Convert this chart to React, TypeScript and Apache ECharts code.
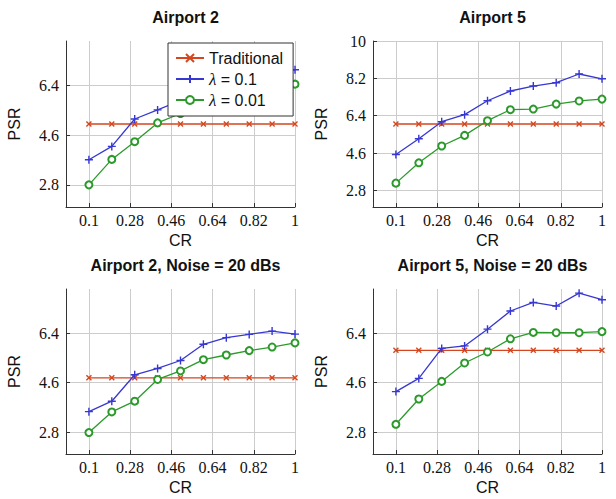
import React, { useEffect, useRef } from "react";
import * as echarts from "echarts";

const CR = [0.1, 0.2, 0.3, 0.4, 0.5, 0.6, 0.7, 0.8, 0.9, 1.0];
const xTicks = [0.1, 0.28, 0.46, 0.64, 0.82, 1];
const yTicksA = [2.8, 4.6, 6.4];
const yTicksB = [2.8, 4.6, 6.4, 8.2, 10];

const titles = ["Airport 2", "Airport 5", "Airport 2, Noise = 20 dBs", "Airport 5, Noise = 20 dBs"];
const seriesNames = ["Traditional", "λ = 0.1", "λ = 0.01"];

// Airport 2
const a2Trad = [5.0, 5.0, 5.0, 5.0, 5.0, 5.0, 5.0, 5.0, 5.0, 5.0];
const a2L1 = [3.71, 4.19, 5.18, 5.51, 5.85, 6.2, 6.45, 6.65, 6.85, 6.96];
const a2L01 = [2.8, 3.72, 4.36, 5.04, 5.38, 5.75, 5.95, 6.1, 6.25, 6.44];
// Airport 5
const a5Trad = [6.0, 6.0, 6.0, 6.0, 6.0, 6.0, 6.0, 6.0, 6.0, 6.0];
const a5L1 = [4.53, 5.29, 6.11, 6.45, 7.12, 7.59, 7.83, 7.99, 8.41, 8.18];
const a5L01 = [3.15, 4.13, 4.94, 5.45, 6.16, 6.69, 6.72, 6.96, 7.11, 7.2];
// Airport 2, noise
const a2nTrad = [4.77, 4.77, 4.77, 4.77, 4.77, 4.77, 4.77, 4.77, 4.77, 4.77];
const a2nL1 = [3.54, 3.92, 4.88, 5.11, 5.4, 5.99, 6.23, 6.35, 6.47, 6.36];
const a2nL01 = [2.78, 3.53, 3.92, 4.71, 5.02, 5.43, 5.6, 5.76, 5.89, 6.04];
// Airport 5, noise
const a5nTrad = [5.77, 5.77, 5.77, 5.77, 5.77, 5.77, 5.77, 5.77, 5.77, 5.77];
const a5nL1 = [4.27, 4.75, 5.84, 5.93, 6.54, 7.2, 7.51, 7.38, 7.85, 7.61];
const a5nL01 = [3.08, 4.0, 4.64, 5.31, 5.71, 6.19, 6.42, 6.41, 6.41, 6.45];

const panels = [
  [a2Trad, a2L1, a2L01],
  [a5Trad, a5L1, a5L01],
  [a2nTrad, a2nL1, a2nL01],
  [a5nTrad, a5nL1, a5nL01],
];
const yRanges = [
  [2, 8],
  [2, 10],
  [2, 8],
  [2, 8],
];
const yTickSets = [yTicksA, yTicksB, yTicksA, yTicksA];

const RED = "#d5461e";
const BLUE = "#3737d2";
const GREEN = "#2b9a2b";
const colors = [RED, BLUE, GREEN];
const symbols = [
  "path://M0,0L10,10M0,10L10,0",
  "path://M5,0L5,10M0,5L10,5",
  "emptyCircle",
];
const symbolSizes = [5, 8, 7];

const gridBoxes = [
  { left: 66, top: 41, width: 229, height: 166 },
  { left: 373, top: 41, width: 229, height: 166 },
  { left: 66, top: 289, width: 229, height: 165 },
  { left: 373, top: 289, width: 229, height: 165 },
];

export default function App() {
  const ref = useRef<HTMLDivElement>(null);
  useEffect(() => {
    if (!ref.current) return;
    const chart = echarts.init(ref.current, undefined, { renderer: "svg" });
    const axisLineColor = "#333";
    const gridColor = "#cccccc";
    const serif = "Liberation Serif";
    const sans = "Liberation Sans";

    const grid = gridBoxes.map((g) => ({ ...g, containLabel: false }));
    const xAxis = gridBoxes.map((_, i) => ({
      type: "value",
      gridIndex: i,
      min: 0,
      max: 1,
      name: "CR",
      nameLocation: "middle",
      nameGap: 25,
      nameTextStyle: { fontFamily: sans, fontSize: 16, color: "#111" },
      axisLine: { show: true, onZero: false, lineStyle: { color: axisLineColor, width: 1 } },
      axisTick: { show: true, inside: true, length: 4, customValues: xTicks, lineStyle: { color: axisLineColor } },
      axisLabel: {
        customValues: xTicks,
        fontFamily: serif,
        fontSize: 16,
        color: "#111",
        margin: 5,
        formatter: (v: number) => String(Math.round(v * 100) / 100),
      },
      splitLine: { show: true, lineStyle: { color: gridColor, width: 1 } },
    }));
    const yAxis = gridBoxes.map((_, i) => ({
      type: "value",
      gridIndex: i,
      min: yRanges[i][0],
      max: yRanges[i][1],
      name: "PSR",
      nameLocation: "middle",
      nameGap: 44,
      nameTextStyle: { fontFamily: sans, fontSize: 16, color: "#111" },
      axisLine: { show: true, onZero: false, lineStyle: { color: axisLineColor, width: 1 } },
      axisTick: { show: true, inside: true, length: 4, customValues: yTickSets[i], lineStyle: { color: axisLineColor } },
      axisLabel: {
        customValues: yTickSets[i],
        fontFamily: serif,
        fontSize: 16,
        color: "#111",
        margin: 7,
        formatter: (v: number) => String(Math.round(v * 10) / 10),
      },
      splitLine: { show: true, lineStyle: { color: gridColor, width: 1 } },
    }));

    const series: any[] = [];
    panels.forEach((panel, pi) => {
      panel.forEach((vals, si) => {
        series.push({
          type: "line",
          name: seriesNames[si],
          xAxisIndex: pi,
          yAxisIndex: pi,
          data: CR.map((x, k) => [x, vals[k]]),
          symbol: symbols[si],
          symbolSize: symbolSizes[si],
          showSymbol: true,
          clip: false,
          lineStyle: { color: colors[si], width: 1.3 },
          itemStyle: { color: colors[si], borderColor: colors[si], borderWidth: 1.4 },
          z: 2 + si,
        });
      });
    });

    const centers = gridBoxes.map((g) => g.left + g.width / 2);
    const title = titles.map((t, i) => ({
      text: t,
      left: centers[i],
      top: i < 2 ? 4 : 252,
      textAlign: "center",
      textStyle: { fontFamily: sans, fontSize: 16, fontWeight: "bold", color: "#111" },
    }));

    chart.setOption({
      animation: false,
      backgroundColor: "#fff",
      title,
      grid,
      xAxis,
      yAxis,
      legend: {
        data: seriesNames,
        orient: "vertical",
        left: 168,
        top: 43,
        padding: [6, 10, 7, 7],
        itemWidth: 28,
        itemHeight: 10,
        itemGap: 3,
        backgroundColor: "#fff",
        borderColor: "#333",
        borderWidth: 1,
        borderRadius: 0,
        z: 10,
        formatter: (name: string) => (name.startsWith("λ") ? "{l|λ}" + name.slice(1) : name),
        textStyle: {
          fontFamily: sans,
          fontSize: 16,
          lineHeight: 18,
          color: "#111",
          rich: { l: { fontFamily: serif, fontStyle: "italic", fontSize: 17, lineHeight: 18, color: "#111" } },
        },
      },
      series,
    });
    return () => chart.dispose();
  }, []);
  return <div ref={ref} style={{ position: "fixed", left: 0, top: 0, width: 616, height: 499 }} />;
}
